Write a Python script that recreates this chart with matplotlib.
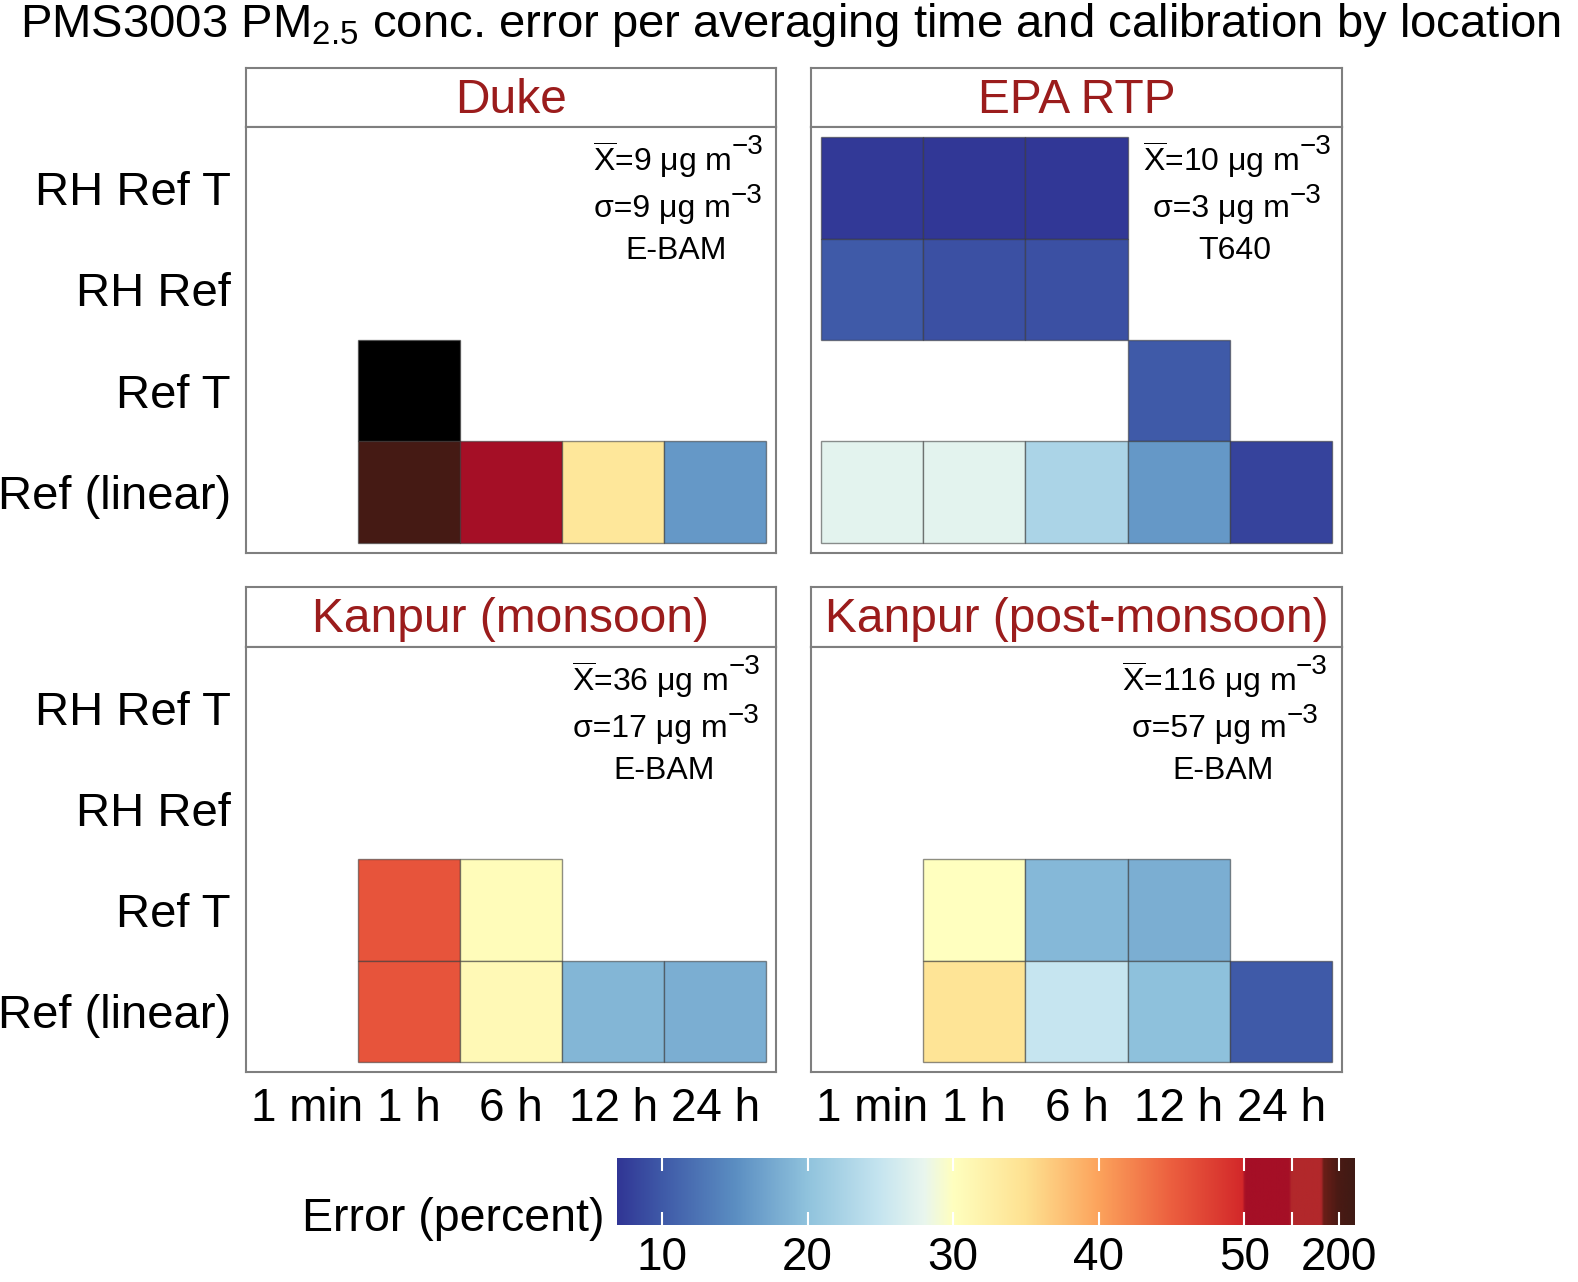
import numpy as np
import matplotlib
matplotlib.use("Agg")
import matplotlib.pyplot as plt
from matplotlib import font_manager
from matplotlib.colors import LinearSegmentedColormap, Normalize
from matplotlib.patches import Rectangle

# ---------------------------
# data (error in percent, NaN = not available)
# ---------------------------
averaging = ["1 min", "1 h", "6 h", "12 h", "24 h"]
calibrations = ["RH Ref T", "RH Ref", "Ref T", "Ref (linear)"]
locations = ["Duke", "EPA RTP", "Kanpur (monsoon)", "Kanpur (post-monsoon)"]

nan = np.nan
err_duke = [[nan, nan, nan, nan, nan],
            [nan, nan, nan, nan, nan],
            [nan, 300, nan, nan, nan],
            [nan, 220, 70, 34, 16]]
err_epa = [[7.2, 7.0, 7.0, nan, nan],
           [10, 9.2, 9.2, nan, nan],
           [nan, nan, nan, 10, nan],
           [27.5, 27.5, 22.5, 16, 8]]
err_kanpur_mon = [[nan, nan, nan, nan, nan],
                  [nan, nan, nan, nan, nan],
                  [nan, 46, 30.5, nan, nan],
                  [nan, 46, 31, 18.8, 18]]
err_kanpur_post = [[nan, nan, nan, nan, nan],
                   [nan, nan, nan, nan, nan],
                   [nan, 30, 19, 18, nan],
                   [nan, 34.5, 25, 19.8, 10]]

mean_conc = [9, 10, 36, 116]
sd_conc = [9, 3, 17, 57]
ref_instr = ["E-BAM", "T640", "E-BAM", "E-BAM"]
stat_x = [676, 1235, 664, 1223]  # text centre, px

cbar_ticks = [10, 20, 30, 40, 50, 200]

# ---------------------------
# fonts
# ---------------------------
plt.rcParams['font.family'] = ['Liberation Sans', 'DejaVu Sans']
try:
    font_manager.findfont('Liberation Sans Narrow', fallback_to_default=False)
    title_family = 'Liberation Sans Narrow'
    title_size = 41
except Exception:
    title_family = 'Liberation Sans'
    title_size = 34
plt.rcParams['mathtext.fontset'] = 'custom'
plt.rcParams['mathtext.rm'] = title_family
plt.rcParams['mathtext.it'] = title_family + ':italic'
plt.rcParams['mathtext.sf'] = 'Liberation Sans'

# ---------------------------
# colour scale: linear 10..50, log above 50
# ---------------------------
POS_MIN, POS_MAX = -0.31, 4.76


def to_pos(v):
    v = np.asarray(v, dtype=float)
    lin = (v - 10.0) / 10.0
    lg = 4.0 + 0.3265 * np.log2(np.clip(v, 1e-6, None) / 50.0)
    return np.where(v <= 50, lin, lg)


nodes = [(-0.31, '#313695'), (0.0, '#3f5aa8'), (0.5, '#5b8ec2'),
         (1.0, '#90c3dd'), (1.5, '#c6e5f0'), (1.8, '#e9f6ee'),
         (2.0, '#ffffbf'), (2.5, '#fee191'), (3.0, '#fca35c'),
         (3.5, '#ec5f3f'), (3.99, '#d3282a'), (4.01, '#a50f26'),
         (4.31, '#a50f26'), (4.33, '#b2282b'), (4.53, '#b2282b'),
         (4.55, '#6b1e18'), (4.65, '#4a1a14'), (4.76, '#3f1a14')]
cmap = LinearSegmentedColormap.from_list(
    'err', [((p - POS_MIN) / (POS_MAX - POS_MIN), c) for p, c in nodes], N=1024)
cmap.set_over('black')
norm = Normalize(vmin=POS_MIN, vmax=POS_MAX)

# ---------------------------
# layout (pixels -> figure fraction)
# ---------------------------
W, H = 1578, 1282
fig = plt.figure(figsize=(W / 100, H / 100), dpi=100)


def px_axes(x0, y0, x1, y1):
    return fig.add_axes([x0 / W, 1 - y1 / H, (x1 - x0) / W, (y1 - y0) / H])


panel_px = [(246, 68, 776, 127, 553), (811, 68, 1342, 127, 553),
            (246, 587, 776, 647, 1072), (811, 587, 1342, 647, 1072)]
all_err = [err_duke, err_epa, err_kanpur_mon, err_kanpur_post]
frame_col = '#7f7f7f'
strip_col = '#9b1c1c'
stat_fs = 23


def stat_line(ax, cx, cy, main):
    # main text plus a large superscript "-3"
    shift = 14 / (ax.bbox.width)
    t = ax.text(cx - shift, cy, main, transform=ax.transAxes, ha='center',
                va='baseline', fontsize=stat_fs)
    ax.annotate('\u22123', xy=(1.0, 0.5), xycoords=t, ha='left', va='bottom',
                fontsize=20)


for i, (x0, ys, x1, yp, yb) in enumerate(panel_px):
    # strip
    sax = px_axes(x0, ys, x1, yp)
    sax.set_xticks([])
    sax.set_yticks([])
    for sp in sax.spines.values():
        sp.set_color(frame_col)
        sp.set_linewidth(1.5)
    sax.text(0.5, 0.45, locations[i], transform=sax.transAxes, ha='center',
             va='center', fontsize=34.5, color=strip_col)

    # tiles
    ax = px_axes(x0, yp, x1, yb)
    vals = np.array(all_err[i], dtype=float)
    for r in range(vals.shape[0]):
        for c in range(vals.shape[1]):
            if np.isnan(vals[r, c]):
                continue
            colr = cmap(norm(to_pos(vals[r, c])))
            ax.add_patch(Rectangle((c + 0.5, r + 0.5), 1, 1, facecolor=colr,
                                   edgecolor=(0.2, 0.2, 0.2, 0.55), linewidth=1.0))
    ax.set_xlim(0.407, 5.593)
    ax.set_ylim(4.6, 0.4)
    for sp in ax.spines.values():
        sp.set_color(frame_col)
        sp.set_linewidth(1.5)

    ax.set_yticks(np.arange(1, len(calibrations) + 1))
    if i % 2 == 0:
        ax.set_yticklabels(calibrations, fontsize=34)
    else:
        ax.set_yticklabels([])
    ax.set_xticks(np.arange(1, len(averaging) + 1))
    if i >= 2:
        ax.set_xticklabels(averaging, fontsize=33)
    else:
        ax.set_xticklabels([])
    ax.tick_params(length=0, pad=11)

    # statistics annotation
    cx = (stat_x[i] - x0) / (x1 - x0)
    ph = yb - yp
    stat_line(ax, cx, 1 - 44 / ph, r'$\mathsf{\overline{X}}$=%d μg m' % mean_conc[i])
    stat_line(ax, cx, 1 - 90 / ph, 'σ=%d μg m' % sd_conc[i])
    ax.text(cx, 1 - 132 / ph, ref_instr[i], transform=ax.transAxes,
            ha='center', va='baseline', fontsize=stat_fs)

# ---------------------------
# colour bar
# ---------------------------
cax = px_axes(617, 1158, 1355, 1225)
grad = np.linspace(POS_MIN, POS_MAX, 1200).reshape(1, -1)
cax.imshow(grad, cmap=cmap, norm=norm, aspect='auto',
           extent=[POS_MIN, POS_MAX, 0, 1])
tick_pos = to_pos(cbar_ticks)
mark_pos = to_pos([10, 20, 30, 40, 50, 100, 200])
cax.vlines(mark_pos, 0, 0.2, color='white', lw=1.5)
cax.vlines(mark_pos, 0.8, 1, color='white', lw=1.5)
cax.set_xlim(POS_MIN, POS_MAX)
cax.set_ylim(0, 1)
cax.set_yticks([])
cax.set_xticks(tick_pos)
cax.set_xticklabels([str(t) for t in cbar_ticks], fontsize=33)
cax.tick_params(length=0, pad=8)
for sp in cax.spines.values():
    sp.set_visible(False)

fig.text(605 / W, 1 - 1231 / H, 'Error (percent)', ha='right', va='baseline',
         fontsize=33.5)

fig.text(20 / W, 1 - 37 / H,
         r'PMS3003 PM$_{\mathrm{2.5}}$ conc. error per averaging time and calibration by location',
         ha='left', va='baseline', fontsize=title_size, family=title_family)

fig.savefig('out.png', dpi=100)
plt.close(fig)
